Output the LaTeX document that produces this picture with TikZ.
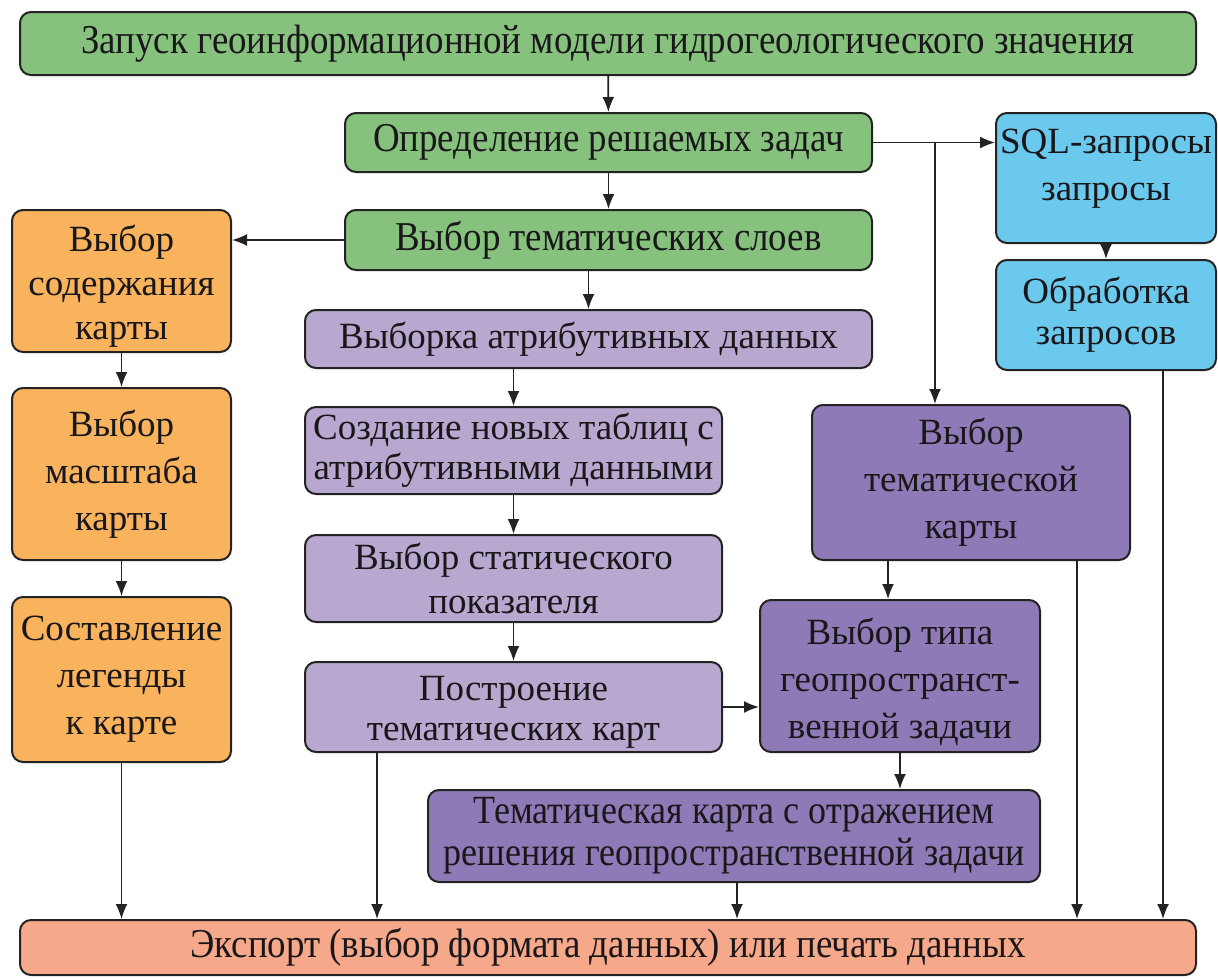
\documentclass[tikz,border=0pt]{standalone}
\usepackage{fontspec}
\setmainfont{Liberation Serif}
\newfontfamily\boxfont{Liberation Serif}
\newfontfamily\narrowfont{Liberation Serif}[FakeStretch=0.9]
\usetikzlibrary{arrows.meta}

\definecolor{cgreen}{RGB}{134,194,126}
\definecolor{corange}{RGB}{248,179,92}
\definecolor{cblue}{RGB}{108,201,238}
\definecolor{clilac}{RGB}{184,168,208}
\definecolor{cviolet}{RGB}{141,122,182}
\definecolor{csalmon}{RGB}{246,168,138}
\definecolor{cedge}{RGB}{35,35,35}
\definecolor{ctext}{RGB}{25,23,25}

\tikzset{
  box/.style={draw=cedge, line width=2pt, rounded corners=11pt, align=center,
    inner sep=0pt, text=ctext, font=\boxfont\fontsize{37}{44}\selectfont},
  greenbox/.style={box, fill=cgreen},
  orangebox/.style={box, fill=corange},
  bluebox/.style={box, fill=cblue},
  lilacbox/.style={box, fill=clilac},
  violetbox/.style={box, fill=cviolet},
  salmonbox/.style={box, fill=csalmon},
  tall/.style={font=\boxfont\fontsize{37}{47}\selectfont},
  narrow/.style={font=\narrowfont\fontsize{41}{44}\selectfont},
  inner/.style={align=center, inner sep=0pt, text=ctext, font=\boxfont\fontsize{37}{47}\selectfont},
  conn/.style={draw=cedge, line width=1.7pt, -{Latex[length=15pt,width=12pt]}},
}

\begin{document}
\begin{tikzpicture}[x=1pt,y=-1pt]
  \useasboundingbox (0,0) rectangle (1218,978);

  % main column
  \node[greenbox, narrow, minimum width=1176, minimum height=63] (top) at (608,43.5)
    {Запуск геоинформационной модели гидрогеологического значения};
  \node[greenbox, narrow, minimum width=527, minimum height=59] (opred) at (608.5,142.5)
    {Определение решаемых задач};
  \node[greenbox, narrow, minimum width=527, minimum height=60] (sloi) at (608.5,240)
    {Выбор тематических слоев};

  % left column
  \node[orangebox, minimum width=219, minimum height=142,
    label={[inner, font=\boxfont\fontsize{37}{44}\selectfont, yshift=-5pt]center:{Выбор\\содержания\\карты}}] (sod) at (121.5,281) {};
  \node[orangebox, tall, minimum width=219, minimum height=172] (masht) at (121.5,474)
    {Выбор\\масштаба\\карты};
  \node[orangebox, tall, minimum width=219, minimum height=165] (leg) at (121.5,679.5)
    {Составление\\легенды\\к карте};

  % right column
  \node[bluebox, minimum width=220, minimum height=130,
    label={[inner, yshift=9pt]center:{SQL-запросы\\запросы}}] (sql) at (1106,178) {};
  \node[bluebox, font=\boxfont\fontsize{37}{41}\selectfont, minimum width=220, minimum height=110] (obr) at (1106,315)
    {Обработка\\запросов};

  % attribute data branch
  \node[lilacbox, minimum width=567, minimum height=58] (vyb) at (588.5,339)
    {Выборка атрибутивных данных};
  \node[lilacbox, font=\boxfont\fontsize{37}{40}\selectfont, minimum width=417, minimum height=87] (sozd) at (513.5,450.5)
    {Создание новых таблиц с\\атрибутивными данными};
  \node[lilacbox, minimum width=417, minimum height=87] (stat) at (513.5,578.5)
    {Выбор статического\\показателя};
  \node[lilacbox, minimum width=417, minimum height=90,
    label={[inner, font=\boxfont\fontsize{37}{40}\selectfont, yshift=-5pt]center:{Построение\\тематических карт}}] (postr) at (513.5,707) {};

  % thematic map branch
  \node[violetbox, tall, minimum width=318, minimum height=155] (vtk) at (971,482.5)
    {Выбор\\тематической\\карты};
  \node[violetbox, minimum width=280, minimum height=152,
    label={[inner, yshift=-6pt]center:{Выбор типа\\геопространст-\\венной задачи}}] (vtip) at (900,676) {};
  \node[violetbox, font=\narrowfont\fontsize{40}{42}\selectfont, minimum width=612, minimum height=92] (tkarta) at (734,836)
    {Тематическая карта с отражением\\решения геопространственной задачи};

  % output
  \node[salmonbox, narrow, minimum width=1176, minimum height=55] (exp) at (608,947.5)
    {Экспорт (выбор формата данных) или печать данных};

  % connectors
  \draw[conn] (top) -- (opred);
  \draw[conn] (opred) -- (sloi);
  \draw[conn] (sloi.south -| vyb.north) -- (vyb.north);
  \draw[conn] (sloi.west) -- (sloi.west -| sod.east);
  \draw[conn] (sod) -- (masht);
  \draw[conn] (masht) -- (leg);
  \draw[conn] (vyb.south -| sozd.north) -- (sozd.north);
  \draw[conn] (sozd) -- (stat);
  \draw[conn] (stat) -- (postr);
  \draw[conn] (postr.east) -- (postr.east -| vtip.west);
  \draw[conn] (opred.east) -- (opred.east -| sql.west);
  \coordinate (fork) at (935,142.5);
  \draw[conn] (fork) -- (fork |- vtk.north);
  \draw[conn] (sql) -- (obr);
  \coordinate (vtkout) at (888,0);
  \draw[conn] (vtkout |- vtk.south) -- (vtkout |- vtip.north);
  \draw[conn] (vtip.south) -- (vtip.south |- tkarta.north);

  % into the export box
  \draw[conn] (leg.south) -- (leg.south |- exp.north);
  \coordinate (postrout) at (377,0);
  \draw[conn] (postrout |- postr.south) -- (postrout |- exp.north);
  \coordinate (tkout) at (737,0);
  \draw[conn] (tkout |- tkarta.south) -- (tkout |- exp.north);
  \coordinate (vtkdown) at (1077,0);
  \draw[conn] (vtkdown |- vtk.south) -- (vtkdown |- exp.north);
  \coordinate (obrout) at (1163,0);
  \draw[conn] (obrout |- obr.south) -- (obrout |- exp.north);
\end{tikzpicture}
\end{document}
